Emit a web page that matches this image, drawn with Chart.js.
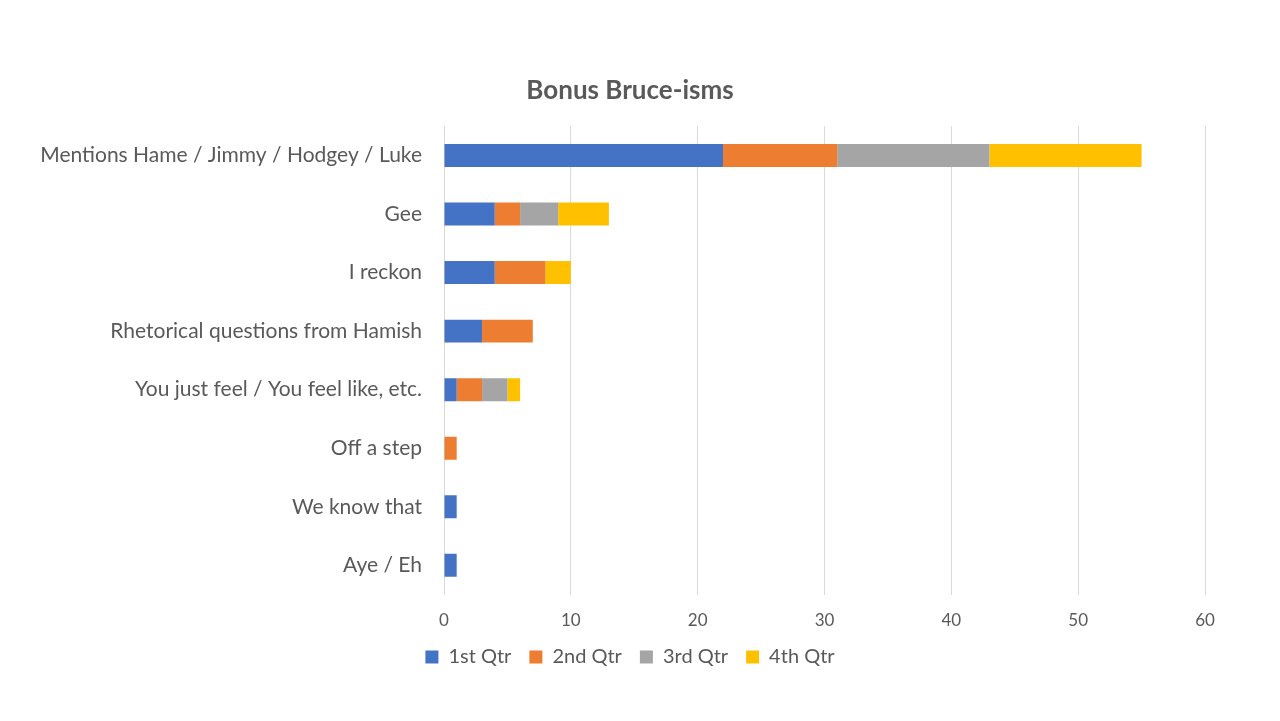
<!DOCTYPE html>
<html>
<head>
<meta charset="utf-8">
<script src="https://cdn.jsdelivr.net/npm/chart.js@4/dist/chart.umd.min.js"></script>
<style>
html,body{margin:0;padding:0;background:#fff;}
#wrap{width:1280px;height:721px;}
</style>
</head>
<body>
<div id="wrap"><canvas id="c" width="1280" height="721"></canvas></div>
<script>
const categories = [
  "Mentions Hame / Jimmy / Hodgey / Luke",
  "Gee",
  "I reckon",
  "Rhetorical questions from Hamish",
  "You just feel / You feel like, etc.",
  "Off a step",
  "We know that",
  "Aye / Eh"
];
const q1 = [22, 4, 4, 3, 1, 0, 1, 1];
const q2 = [9, 2, 4, 4, 2, 1, 0, 0];
const q3 = [12, 3, 0, 0, 2, 0, 0, 0];
const q4 = [12, 4, 2, 0, 1, 0, 0, 0];
const seriesNames = ["1st Qtr", "2nd Qtr", "3rd Qtr", "4th Qtr"];
const colors = ["#4472C4", "#ED7D31", "#A5A5A5", "#FFC000"];
const xTicks = [0, 10, 20, 30, 40, 50, 60];

const FONT = "Lato, 'Noto Sans', sans-serif";
const TXT = "#595959";

const ds = [q1, q2, q3, q4].map((d, i) => ({
  label: seriesNames[i],
  data: d,
  backgroundColor: colors[i],
  borderWidth: 0,
  categoryPercentage: 0.8,
  barPercentage: 0.49
}));

const noClip = {
  id: 'noClip',
  afterLayout(chart) {
    chart.scales.y._computeLabelArea = function () { return undefined; };
  }
};

new Chart(document.getElementById('c'), {
  type: 'bar',
  data: { labels: categories, datasets: ds },
  plugins: [noClip],
  options: {
    indexAxis: 'y',
    responsive: false,
    animation: false,
    devicePixelRatio: 1,
    layout: { padding: { left: 55, right: 75, top: 75, bottom: 44 } },
    plugins: {
      title: {
        display: true,
        text: "Bonus Bruce-isms",
        color: TXT,
        font: { family: FONT, size: 26, weight: 'bold' },
        padding: { top: 0, bottom: 20 }
      },
      legend: {
        position: 'bottom',
        labels: {
          color: TXT,
          font: { family: FONT, size: 20 },
          boxWidth: 13,
          boxHeight: 13,
          padding: 18
        }
      },
      tooltip: { enabled: false }
    },
    scales: {
      x: {
        stacked: true,
        min: 0,
        max: 60,
        afterBuildTicks: (s) => { s.ticks = xTicks.map(v => ({ value: v })); },
        afterFit: (s) => { s.height -= 18; },
        ticks: { color: TXT, font: { family: FONT, size: 17 }, padding: 16 },
        grid: { color: "#D9D9D9", drawTicks: false, lineWidth: 1 },
        border: { display: false }
      },
      y: {
        stacked: true,
        afterFit: (s) => { s.width = 389; },
        ticks: { color: TXT, font: { family: FONT, size: 21 }, padding: 14 },
        grid: { display: false },
        border: { display: false }
      }
    }
  }
});
</script>
</body>
</html>
